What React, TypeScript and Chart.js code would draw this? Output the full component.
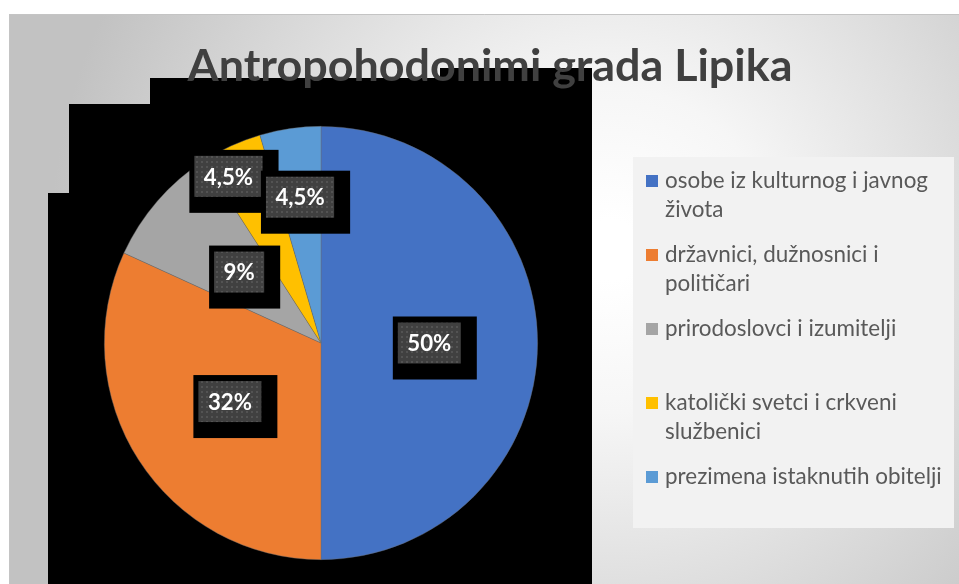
import React, { useEffect, useRef } from "react";
import { Chart, registerables } from "chart.js";

Chart.register(...registerables);

// ---- data ----
const chartTitle = "Antropohodonimi grada Lipika";
const categories: string[][] = [
  ["osobe iz kulturnog i javnog", "života"],
  ["državnici, dužnosnici i", "političari"],
  ["prirodoslovci i izumitelji"],
  ["katolički svetci i crkveni", "službenici"],
  ["prezimena istaknutih obitelji"],
];
const counts = [11, 7, 2, 1, 1];
const valueLabels = ["50%", "32%", "9%", "4,5%", "4,5%"];
const sliceColors = ["#4472C4", "#ED7D31", "#A5A5A5", "#FFC000", "#5B9BD5"];

// ---- layout constants ----
const W = 959;
const H = 584;
const FONT = "Lato, 'Open Sans', sans-serif";
// label placement (fraction of radius, angle tweak in degrees) per slice
const labelRadial = [0.5, 0.5, 0.5, 0.88, 0.68];
const labelAngleTweak = [0, 0, 0, -4.5, 0];
// rendering artefacts (black blocks) of the original picture
const blackBlocks: number[][] = [
  [150, 78, 592, 584],
  [440, 68, 592, 584],
  [69, 104, 592, 584],
  [48, 193, 592, 584],
];

function fitSize(ctx: CanvasRenderingContext2D, text: string, weight: string, target: number) {
  ctx.font = `${weight} 40px ${FONT}`;
  const w = ctx.measureText(text).width;
  return (40 * target) / w;
}

let dotPattern: CanvasPattern | null = null;
function getPattern(ctx: CanvasRenderingContext2D) {
  if (dotPattern) return dotPattern;
  const c = document.createElement("canvas");
  c.width = 5;
  c.height = 5;
  const p = c.getContext("2d")!;
  p.fillStyle = "#404040";
  p.fillRect(0, 0, 5, 5);
  p.fillStyle = "#535353";
  p.fillRect(1, 1, 2, 2);
  dotPattern = ctx.createPattern(c, "repeat");
  return dotPattern;
}

const backgroundPlugin = {
  id: "bgArtefacts",
  beforeDraw(chart: any) {
    const ctx: CanvasRenderingContext2D = chart.ctx;
    ctx.save();
    ctx.fillStyle = "#ffffff";
    ctx.fillRect(0, 0, W, H);
    const g = ctx.createRadialGradient(610, 250, 30, 610, 250, 560);
    g.addColorStop(0, "#ffffff");
    g.addColorStop(0.25, "#f6f6f6");
    g.addColorStop(1, "#c2c2c2");
    ctx.fillStyle = g;
    ctx.fillRect(9, 14, W - 9, H - 14);
    ctx.strokeStyle = "#c4c4c4";
    ctx.lineWidth = 1;
    ctx.beginPath();
    ctx.moveTo(9.5, H);
    ctx.lineTo(9.5, 14.5);
    ctx.lineTo(W, 14.5);
    ctx.stroke();
    ctx.fillStyle = "#000000";
    for (const [x0, y0, x1, y1] of blackBlocks) ctx.fillRect(x0, y0, x1 - x0, y1 - y0);
    ctx.restore();
  },
};

const labelPlugin = {
  id: "sliceLabels",
  afterDatasetsDraw(chart: any) {
    const ctx: CanvasRenderingContext2D = chart.ctx;
    const meta = chart.getDatasetMeta(0);
    const size = fitSize(ctx, "50%", "bold", 44);
    ctx.save();
    ctx.font = `bold ${size}px ${FONT}`;
    meta.data.forEach((arc: any, i: number) => {
      const p = arc.getProps(["x", "y", "startAngle", "endAngle", "outerRadius"], true);
      const mid = (p.startAngle + p.endAngle) / 2 + (labelAngleTweak[i] * Math.PI) / 180;
      const r = p.outerRadius * labelRadial[i];
      const cx = p.x + Math.cos(mid) * r;
      const cy = p.y + Math.sin(mid) * r;
      const text = valueLabels[i];
      const tw = ctx.measureText(text).width;
      const bw = tw + 19;
      const bh = 41;
      const bx = cx - bw / 2;
      const by = cy - bh / 2;
      ctx.fillStyle = "#000000";
      ctx.fillRect(bx - 5, by - 6, bw + 21, bh + 22);
      ctx.fillStyle = getPattern(ctx) || "#404040";
      ctx.fillRect(bx, by, bw, bh);
      ctx.fillStyle = "#ffffff";
      ctx.textAlign = "center";
      ctx.textBaseline = "middle";
      ctx.fillText(text, cx, cy + 1);
    });
    ctx.restore();
  },
};

const titleLegendPlugin = {
  id: "titleLegend",
  afterDraw(chart: any) {
    const ctx: CanvasRenderingContext2D = chart.ctx;
    ctx.save();
    // title
    const ts = fitSize(ctx, chartTitle, "bold", 605);
    ctx.font = `bold ${ts}px ${FONT}`;
    ctx.fillStyle = "#404040";
    ctx.textAlign = "center";
    ctx.textBaseline = "alphabetic";
    ctx.fillText(chartTitle, 490, 81);

    // legend
    ctx.fillStyle = "#f2f2f2";
    ctx.fillRect(633, 157, 321, 371);
    const ls = fitSize(ctx, "prezimena istaknutih obitelji", "normal", 277);
    ctx.font = `normal ${ls}px ${FONT}`;
    ctx.textAlign = "left";
    ctx.textBaseline = "middle";
    const colors = chart.data.datasets[0].backgroundColor as string[];
    (chart.data.labels as string[][]).forEach((lines, i) => {
      const y0 = 181 + i * 74;
      ctx.fillStyle = colors[i];
      ctx.fillRect(646, y0 - 6, 12, 12);
      ctx.fillStyle = "#595959";
      lines.forEach((ln, j) => ctx.fillText(ln, 665, y0 + j * 29));
    });
    ctx.restore();
  },
};

export default function App() {
  const ref = useRef<HTMLCanvasElement>(null);
  useEffect(() => {
    document.body.style.margin = "0";
    const chart = new Chart(ref.current!, {
      type: "pie",
      data: {
        labels: categories as any,
        datasets: [
          {
            data: counts,
            backgroundColor: sliceColors,
            borderColor: "rgba(110,110,110,0.55)",
            borderWidth: 0.75,
          },
        ],
      },
      options: {
        animation: false,
        responsive: true,
        maintainAspectRatio: false,
        layout: { padding: { left: 104, right: 421, top: 126, bottom: 24 } },
        plugins: {
          legend: { display: false },
          title: { display: false },
          tooltip: { enabled: false },
        },
      },
      plugins: [backgroundPlugin, labelPlugin, titleLegendPlugin],
    });
    return () => chart.destroy();
  }, []);
  return (
    <div style={{ width: W, height: H, position: "relative" }}>
      <canvas ref={ref} />
    </div>
  );
}
